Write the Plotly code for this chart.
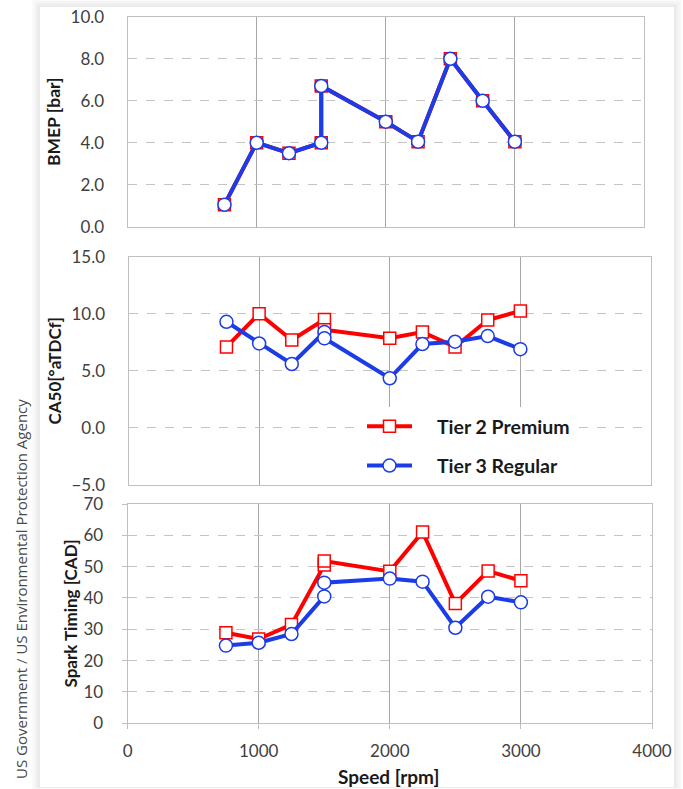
import plotly.graph_objects as go

# Engine operating points (speed in rpm); 1500 rpm is run at two loads
speed = [750, 1000, 1250, 1500, 1500, 2000, 2250, 2500, 2750, 3000]

bmep_t2 = [1.05, 4.0, 3.5, 4.0, 6.7, 5.0, 4.05, 8.0, 6.0, 4.05]
bmep_t3 = [1.05, 4.0, 3.5, 4.0, 6.7, 5.0, 4.05, 8.0, 6.0, 4.05]

ca50_t2 = [7.1, 10.0, 7.7, 9.5, 8.6, 7.85, 8.4, 7.1, 9.45, 10.25]
ca50_t3 = [9.3, 7.4, 5.6, 8.4, 7.85, 4.35, 7.35, 7.55, 8.05, 6.9]

spark_t2 = [28.9, 26.9, 31.5, 50.5, 51.8, 48.5, 61.1, 38.2, 48.6, 45.5]
spark_t3 = [24.8, 25.7, 28.5, 40.5, 44.9, 46.2, 45.2, 30.5, 40.4, 38.6]

series_names = ["Tier 2 Premium", "Tier 3 Regular"]
x_ticks = [0, 1000, 2000, 3000, 4000]

W, H = 683, 789
RED = "#ff0000"
BLUE = "#1c3ce8"
TICK_FONT = dict(family="Lato", size=17, color="#404040")
PAD = "\u00a0" * 4  # gap between legend symbol and label


def px_x(v):
    return v / W


def px_y(v):
    return 1 - v / H


fig = go.Figure()

panels = [
    ("x", "y", bmep_t2, bmep_t3, False),
    ("x2", "y2", ca50_t2, ca50_t3, True),
    ("x3", "y3", spark_t2, spark_t3, False),
]

for xa, ya, t2, t3, in_legend in panels:
    fig.add_trace(go.Scatter(
        x=speed, y=t2, xaxis=xa, yaxis=ya, mode="lines+markers",
        name=f"{PAD}<b>{series_names[0]}</b>", legendgroup="t2",
        showlegend=in_legend,
        line=dict(color=RED, width=4),
        marker=dict(symbol="square", size=12, color="white",
                    line=dict(color=RED, width=1.5)),
    ))
    fig.add_trace(go.Scatter(
        x=speed, y=t3, xaxis=xa, yaxis=ya, mode="lines+markers",
        name=f"{PAD}<b>{series_names[1]}</b>", legendgroup="t3",
        showlegend=in_legend,
        line=dict(color=BLUE, width=4),
        marker=dict(symbol="circle", size=13, color="white",
                    line=dict(color=BLUE, width=1.5)),
    ))

common_x = dict(
    range=[0, 4000], tickvals=x_ticks, showgrid=True, gridcolor="#a6a6a6",
    gridwidth=1, zeroline=False, showline=True, linecolor="#bfbfbf",
    linewidth=1, mirror=True, fixedrange=True, automargin=False,
)
common_y = dict(
    showgrid=True, gridcolor="#c4c4c4", griddash="dash", gridwidth=1,
    zeroline=False, showline=True, linecolor="#bfbfbf", linewidth=1,
    mirror=True, tickfont=TICK_FONT, ticklabelstandoff=19,
    automargin=False, fixedrange=True,
)

fig.update_layout(
    width=W, height=H,
    margin=dict(l=0, r=0, t=0, b=0, pad=0, autoexpand=False),
    paper_bgcolor="white", plot_bgcolor="white",
    xaxis=dict(common_x, domain=[px_x(127.6), px_x(644)], anchor="y",
               showticklabels=False),
    yaxis=dict(common_y, domain=[px_y(226.7), px_y(16.7)], anchor="x",
               range=[0, 10], dtick=2, tickformat=".1f"),
    xaxis2=dict(common_x, domain=[px_x(128.5), px_x(651)], anchor="y2",
                showticklabels=False),
    yaxis2=dict(common_y, domain=[px_y(485), px_y(256.7)], anchor="x2",
                range=[-5, 15], dtick=5, tickformat=".1f"),
    xaxis3=dict(common_x, domain=[px_x(127.6), px_x(652)], anchor="y3",
                ticks="outside", ticklen=5, tickcolor="#bfbfbf",
                tickfont=TICK_FONT, ticklabelstandoff=7),
    yaxis3=dict(common_y, domain=[px_y(723.3), px_y(504)], anchor="x3",
                range=[0, 70], dtick=10, ticks="outside", ticklen=5,
                tickcolor="#bfbfbf", ticklabelstandoff=15),
    legend=dict(
        x=px_x(362), y=px_y(407), xanchor="left", yanchor="top",
        bgcolor="white", borderwidth=0, itemwidth=45,
        tracegroupgap=11,
        font=dict(family="Lato", size=19.5, color="#1a1a1a"),
        traceorder="grouped",
    ),
    showlegend=True,
)

# White card with a soft drop shadow behind the three panels
card = (40, 7, 674, 787)
for i, alpha in enumerate([0.018, 0.018, 0.02, 0.022, 0.025]):
    grow = 8 - 2 * i
    fig.add_shape(
        type="rect", xref="paper", yref="paper", layer="below",
        x0=px_x(card[0] - grow), x1=px_x(min(card[2] + grow, W)),
        y0=px_y(min(card[3] + grow * 0.25, H)), y1=px_y(max(card[1] - grow, 0)),
        fillcolor=f"rgba(0,0,0,{alpha})", line_width=0,
    )
fig.add_shape(
    type="rect", xref="paper", yref="paper", layer="below",
    x0=px_x(card[0]), x1=px_x(card[2]), y0=px_y(card[3]), y1=px_y(card[1]),
    fillcolor="white", line_width=0,
)

# Axis titles: (text, centre x px, centre y px, font size)
titles = [
    ("BMEP [bar]", 53, 122, 17.5),
    ("CA50[°aTDCf]", 53.5, 371, 17),
    ("Spark Timing [CAD]", 69.5, 614, 17),
]
for text, cx, cy, size in titles:
    fig.add_annotation(
        text=f"<b>{text}</b>", xref="paper", yref="paper",
        x=px_x(cx), y=px_y(cy), xanchor="center", yanchor="middle",
        textangle=-90, showarrow=False,
        font=dict(family="Lato", size=size, color="#1a1a1a"),
    )
fig.add_annotation(
    text="<b>Speed [rpm]</b>", xref="paper", yref="paper",
    x=px_x(388.6), y=px_y(776.7), xanchor="center", yanchor="middle",
    showarrow=False, font=dict(family="Lato", size=19, color="#1a1a1a"),
)

# Source credit along the left edge
fig.add_annotation(
    text="US Government / US Environmental Protection Agency",
    xref="paper", yref="paper", x=px_x(21), y=px_y(589),
    xanchor="center", yanchor="middle", textangle=-90, showarrow=False,
    font=dict(family="Open Sans", size=15, color="#4a4a4a"),
)

fig.write_html("out.html")
